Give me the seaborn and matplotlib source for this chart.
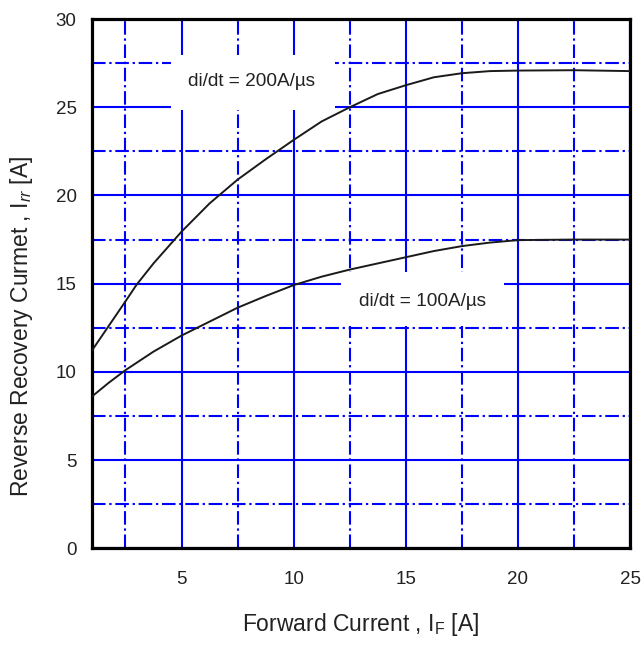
import numpy as np
import pandas as pd
import matplotlib
matplotlib.use("Agg")
import matplotlib.pyplot as plt
from matplotlib.patches import Rectangle
from matplotlib.ticker import FixedLocator
import seaborn as sns

# ---- data ----
x_200 = [1, 1.75, 2.5, 3.0, 3.75, 5, 6.25, 7.5, 8.75, 10, 11.25, 12.5, 13.75, 15, 16.25, 17.5, 18.75, 20, 22.5, 25]
y_200 = [11.2, 12.6, 14.0, 14.95, 16.15, 17.95, 19.55, 20.9, 22.05, 23.15, 24.2, 25.0, 25.75, 26.25, 26.7, 26.93, 27.05, 27.08, 27.1, 27.05]

x_100 = [1, 1.75, 2.5, 3.75, 5, 6.25, 7.5, 8.75, 10, 11.25, 12.5, 13.75, 15, 16.25, 17.5, 18.75, 20, 22.5, 25]
y_100 = [8.6, 9.38, 10.1, 11.15, 12.06, 12.85, 13.64, 14.3, 14.92, 15.4, 15.8, 16.15, 16.5, 16.85, 17.13, 17.33, 17.47, 17.5, 17.5]

series_labels = ["di/dt = 200A/\u00b5s", "di/dt = 100A/\u00b5s"]
x_ticks = [5, 10, 15, 20, 25]
y_ticks = [0, 5, 10, 15, 20, 25, 30]
x_label = r"Forward Current , I$_\mathregular{F}$ [A]"
y_label = r"Reverse Recovery Curmet , I$_{rr}$ [A]"

df = pd.concat([
    pd.DataFrame({"x": x_200, "y": y_200, "s": series_labels[0]}),
    pd.DataFrame({"x": x_100, "y": y_100, "s": series_labels[1]}),
])

sns.set_theme(style="white")
plt.rcParams["font.family"] = ["Liberation Sans", "DejaVu Sans"]
plt.rcParams["mathtext.fontset"] = "custom"
plt.rcParams["mathtext.rm"] = "Liberation Sans"
plt.rcParams["mathtext.it"] = "Liberation Sans:italic"

fig = plt.figure(figsize=(6.43, 6.46), dpi=100)
ax = fig.add_axes([0.1428, 0.1512, 0.8372, 0.8193])

sns.lineplot(data=df, x="x", y="y", hue="s", palette=["#1a1a1a", "#1a1a1a"],
             linewidth=1.4, legend=False, ax=ax, sort=True, zorder=3)

ax.set_xlim(1, 25)
ax.set_ylim(0, 30)
ax.xaxis.set_major_locator(FixedLocator(x_ticks))
ax.yaxis.set_major_locator(FixedLocator(y_ticks))
ax.xaxis.set_minor_locator(FixedLocator([2.5, 7.5, 12.5, 17.5, 22.5]))
ax.yaxis.set_minor_locator(FixedLocator([2.5, 7.5, 12.5, 17.5, 22.5, 27.5]))
ax.set_axisbelow(True)
ax.grid(which="major", color="#0000ff", linewidth=1.5, linestyle="-")
ax.grid(which="minor", color="#0000ff", linewidth=1.5, linestyle=(0, (6.5, 1.8, 1.1, 1.8)))

ax.tick_params(which="both", length=0)
ax.tick_params(axis="x", pad=16, labelsize=13.5, labelcolor="#222222")
ax.tick_params(axis="y", pad=11, labelsize=13.5, labelcolor="#222222")

for sp in ax.spines.values():
    sp.set_visible(True)
    sp.set_color("black")
    sp.set_linewidth(2.3)

# white boxes behind the labels
ax.add_patch(Rectangle((4.55, 24.85), 7.3, 3.1, facecolor="white", edgecolor="none", zorder=1))
ax.add_patch(Rectangle((12.11, 12.63), 7.26, 3.01, facecolor="white", edgecolor="none", zorder=1))
ax.text(8.13, 26.44, series_labels[0], ha="center", va="center", fontsize=13.7, color="#222222", zorder=4)
ax.text(15.74, 14.0, series_labels[1], ha="center", va="center", fontsize=13.7, color="#222222", zorder=4)

ax.set_xlabel(x_label, fontsize=16.5, color="#222222")
ax.set_ylabel(y_label, fontsize=16.5, color="#222222")
ax.xaxis.set_label_coords(0.5, -0.118)
ax.yaxis.set_label_coords(-0.106, 0.42)

fig.savefig("out.png", dpi=100, facecolor="white")
